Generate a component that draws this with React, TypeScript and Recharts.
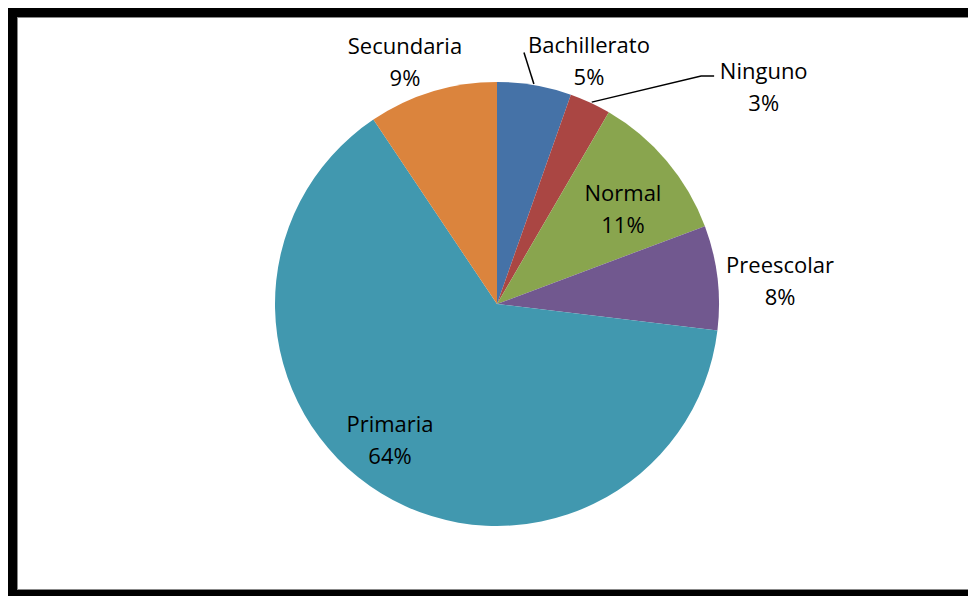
import React from "react";
import { PieChart, Pie, Cell } from "recharts";

// nivel de estudios (porcentaje)
const categories = ["Bachillerato", "Ninguno", "Normal", "Preescolar", "Primaria", "Secundaria"];
const values = [5.4, 3.0, 10.9, 7.6, 63.7, 9.4];
const colors = ["#4572A7", "#AA4643", "#89A54E", "#71588F", "#4198AF", "#DB843D"];

// label placement: radius of the text block and angular shift from the slice middle (deg, clockwise)
const labelLayout: Record<string, { r: number; shift: number; line?: Array<[number, number]>; tail?: number }> = {
  Bachillerato: { r: 260, shift: 11, line: [[223, -0.2], [253, -3.6]] },
  Ninguno: { r: 344, shift: 26, line: [[223, 0.3], [306, 17]], tail: 13 },
  Normal: { r: 158, shift: 3 },
  Preescolar: { r: 284, shift: 2.2 },
  Primaria: { r: 173, shift: 6.7 },
  Secundaria: { r: 259, shift: -3.9 },
};

const data = categories.map((name, i) => ({ name, value: values[i] }));

const pt = (cx: number, cy: number, r: number, compass: number) => {
  const a = (compass * Math.PI) / 180;
  return [cx + r * Math.sin(a), cy - r * Math.cos(a)];
};

const renderLabel = (props: any) => {
  const { cx, cy, midAngle, percent, name } = props;
  const layout = labelLayout[name];
  const mid = 90 - midAngle;
  const [x, y] = pt(cx, cy, layout.r, mid + layout.shift);
  let path = null;
  if (layout.line) {
    const pts = layout.line.map(([r, s]) => pt(cx, cy, r, mid + s));
    if (layout.tail) {
      const last = pts[pts.length - 1];
      pts.push([last[0] + layout.tail, last[1]]);
    }
    path = (
      <polyline
        points={pts.map((p) => p.join(",")).join(" ")}
        fill="none"
        stroke="#000"
        strokeWidth={1.5}
      />
    );
  }
  return (
    <g>
      {path}
      <text
        x={x}
        y={y}
        textAnchor="middle"
        fill="#000"
        fontSize={22}
        fontFamily="'Open Sans', sans-serif"
      >
        <tspan x={x} dy={-8}>{name}</tspan>
        <tspan x={x} dy={32}>{`${Math.round(percent * 100)}%`}</tspan>
      </text>
    </g>
  );
};

export default function App() {
  return (
    <div
      style={{
        width: 968,
        height: 588,
        overflow: "hidden",
        boxSizing: "border-box",
        borderLeft: "9px solid #000",
        borderTop: "9px solid #000",
        borderBottom: "6px solid #000",
        background: "#fff",
        position: "relative",
      }}
    >
      <div
        style={{
          position: "absolute",
          left: 0,
          top: 0,
          right: 0,
          bottom: 0,
          borderLeft: "1px solid #888",
          borderTop: "1px solid #888",
          borderBottom: "1px solid #888",
          pointerEvents: "none",
        }}
      />
      <PieChart width={959} height={573} margin={{ top: 0, right: 0, bottom: 0, left: 0 }}>
        <Pie
          data={data}
          dataKey="value"
          nameKey="name"
          cx={480}
          cy={287}
          outerRadius={222}
          startAngle={90}
          endAngle={-270}
          stroke="none"
          label={renderLabel}
          labelLine={false}
          isAnimationActive={false}
        >
          {data.map((d, i) => (
            <Cell key={d.name} fill={colors[i]} />
          ))}
        </Pie>
      </PieChart>
    </div>
  );
}
